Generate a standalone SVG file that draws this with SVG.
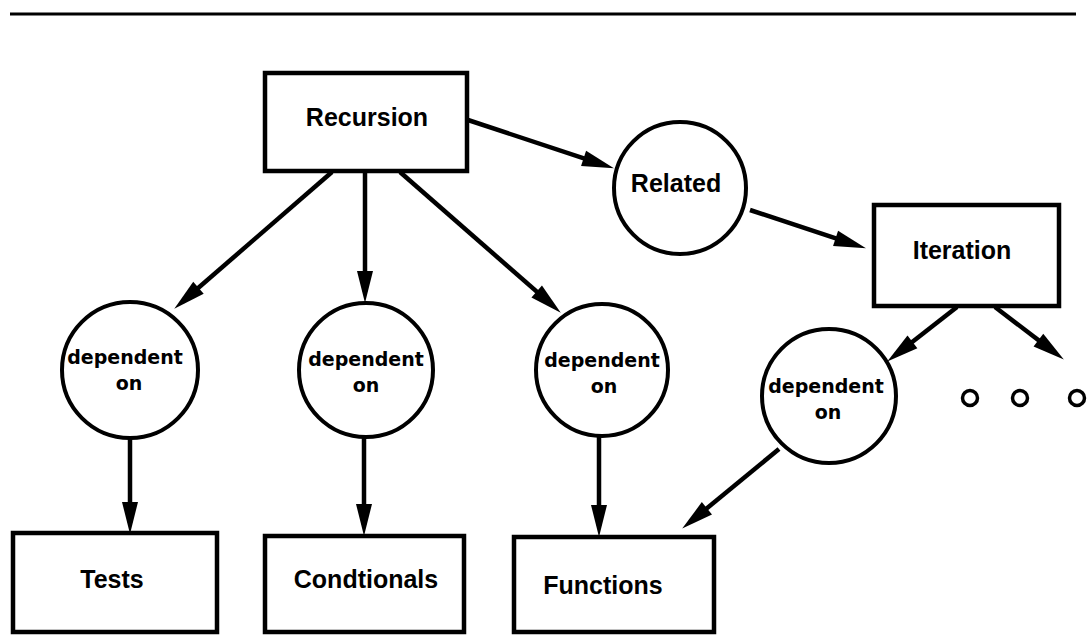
<svg xmlns="http://www.w3.org/2000/svg" width="1090" height="636" viewBox="0 0 1090 636">
  <style>
    .box { fill: #fff; stroke: #000; stroke-width: 4.5; }
    .rel { fill: #fff; stroke: #000; stroke-width: 4; }
    .dot { fill: none; stroke: #000; stroke-width: 3.5; }
    .edge { fill: none; stroke: #000; stroke-width: 4.5; marker-end: url(#head); }
    .lbl { font-family: "Liberation Sans", Arial, Helvetica, sans-serif; font-weight: bold; font-size: 25px; text-anchor: middle; fill: #000; }
    .sm { font-family: "DejaVu Sans", "Liberation Sans", sans-serif; font-weight: bold; font-size: 19px; text-anchor: middle; fill: #000; }
  </style>
  <defs>
    <marker id="head" markerUnits="userSpaceOnUse" markerWidth="33" markerHeight="17" refX="21" refY="8" orient="auto" overflow="visible">
      <path d="M0,0 L32,8 L0,16 Z" fill="#000"/>
    </marker>
  </defs>

  <rect width="1090" height="636" fill="#fff"/>
  <!-- heading rule -->
  <line x1="10" y1="14" x2="1076" y2="14" stroke="#000" stroke-width="3"/>

  <g id="connectors">
    <line class="edge" x1="468" y1="120" x2="603.5" y2="164.9"/>
    <line class="edge" x1="332" y1="172" x2="182.6" y2="301.5"/>
    <line class="edge" x1="365" y1="172" x2="365" y2="292"/>
    <line class="edge" x1="400" y1="172" x2="552.5" y2="305.4"/>
    <line class="edge" x1="750" y1="210" x2="855.5" y2="244.9"/>
    <line class="edge" x1="957" y1="307" x2="895.9" y2="354.8"/>
    <line class="edge" x1="995" y1="307" x2="1055.1" y2="352.9"/>
    <line class="edge" x1="130" y1="438" x2="130" y2="523"/>
    <line class="edge" x1="364" y1="438" x2="364" y2="525"/>
    <line class="edge" x1="599" y1="437" x2="599" y2="526"/>
    <line class="edge" x1="779" y1="449" x2="690.7" y2="521.6"/>
  </g>

  <g id="recursion">
    <rect class="box" x="265" y="73" width="202" height="98"/>
    <text class="lbl" x="367" y="126">Recursion</text>
  </g>
  <g id="related">
    <circle class="rel" cx="680" cy="188" r="66"/>
    <text class="lbl" x="676" y="192">Related</text>
  </g>
  <g id="iteration">
    <rect class="box" x="874" y="205" width="185" height="101"/>
    <text class="lbl" x="962" y="259">Iteration</text>
  </g>
  <g id="dep-tests">
    <circle class="rel" cx="130" cy="370" r="68"/>
    <text class="sm" x="125" y="364">dependent</text>
    <text class="sm" x="129" y="390">on</text>
  </g>
  <g id="dep-conditionals">
    <circle class="rel" cx="366" cy="370" r="67"/>
    <text class="sm" x="366" y="366">dependent</text>
    <text class="sm" x="366" y="392">on</text>
  </g>
  <g id="dep-functions">
    <circle class="rel" cx="602" cy="370" r="66"/>
    <text class="sm" x="602" y="367">dependent</text>
    <text class="sm" x="604" y="393">on</text>
  </g>
  <g id="dep-iteration">
    <circle class="rel" cx="829" cy="396" r="67"/>
    <text class="sm" x="826" y="393">dependent</text>
    <text class="sm" x="828" y="419">on</text>
  </g>
  <g id="more">
    <circle class="dot" cx="970" cy="398" r="7.5"/>
    <circle class="dot" cx="1020" cy="398" r="7.5"/>
    <circle class="dot" cx="1077" cy="398" r="7.5"/>
  </g>
  <g id="tests">
    <rect class="box" x="13" y="533" width="204" height="99"/>
    <text class="lbl" x="112" y="588">Tests</text>
  </g>
  <g id="conditionals">
    <rect class="box" x="265" y="536" width="199" height="96"/>
    <text class="lbl" x="366" y="588">Condtionals</text>
  </g>
  <g id="functions">
    <rect class="box" x="514" y="537" width="200" height="95"/>
    <text class="lbl" x="603" y="594">Functions</text>
  </g>
</svg>
